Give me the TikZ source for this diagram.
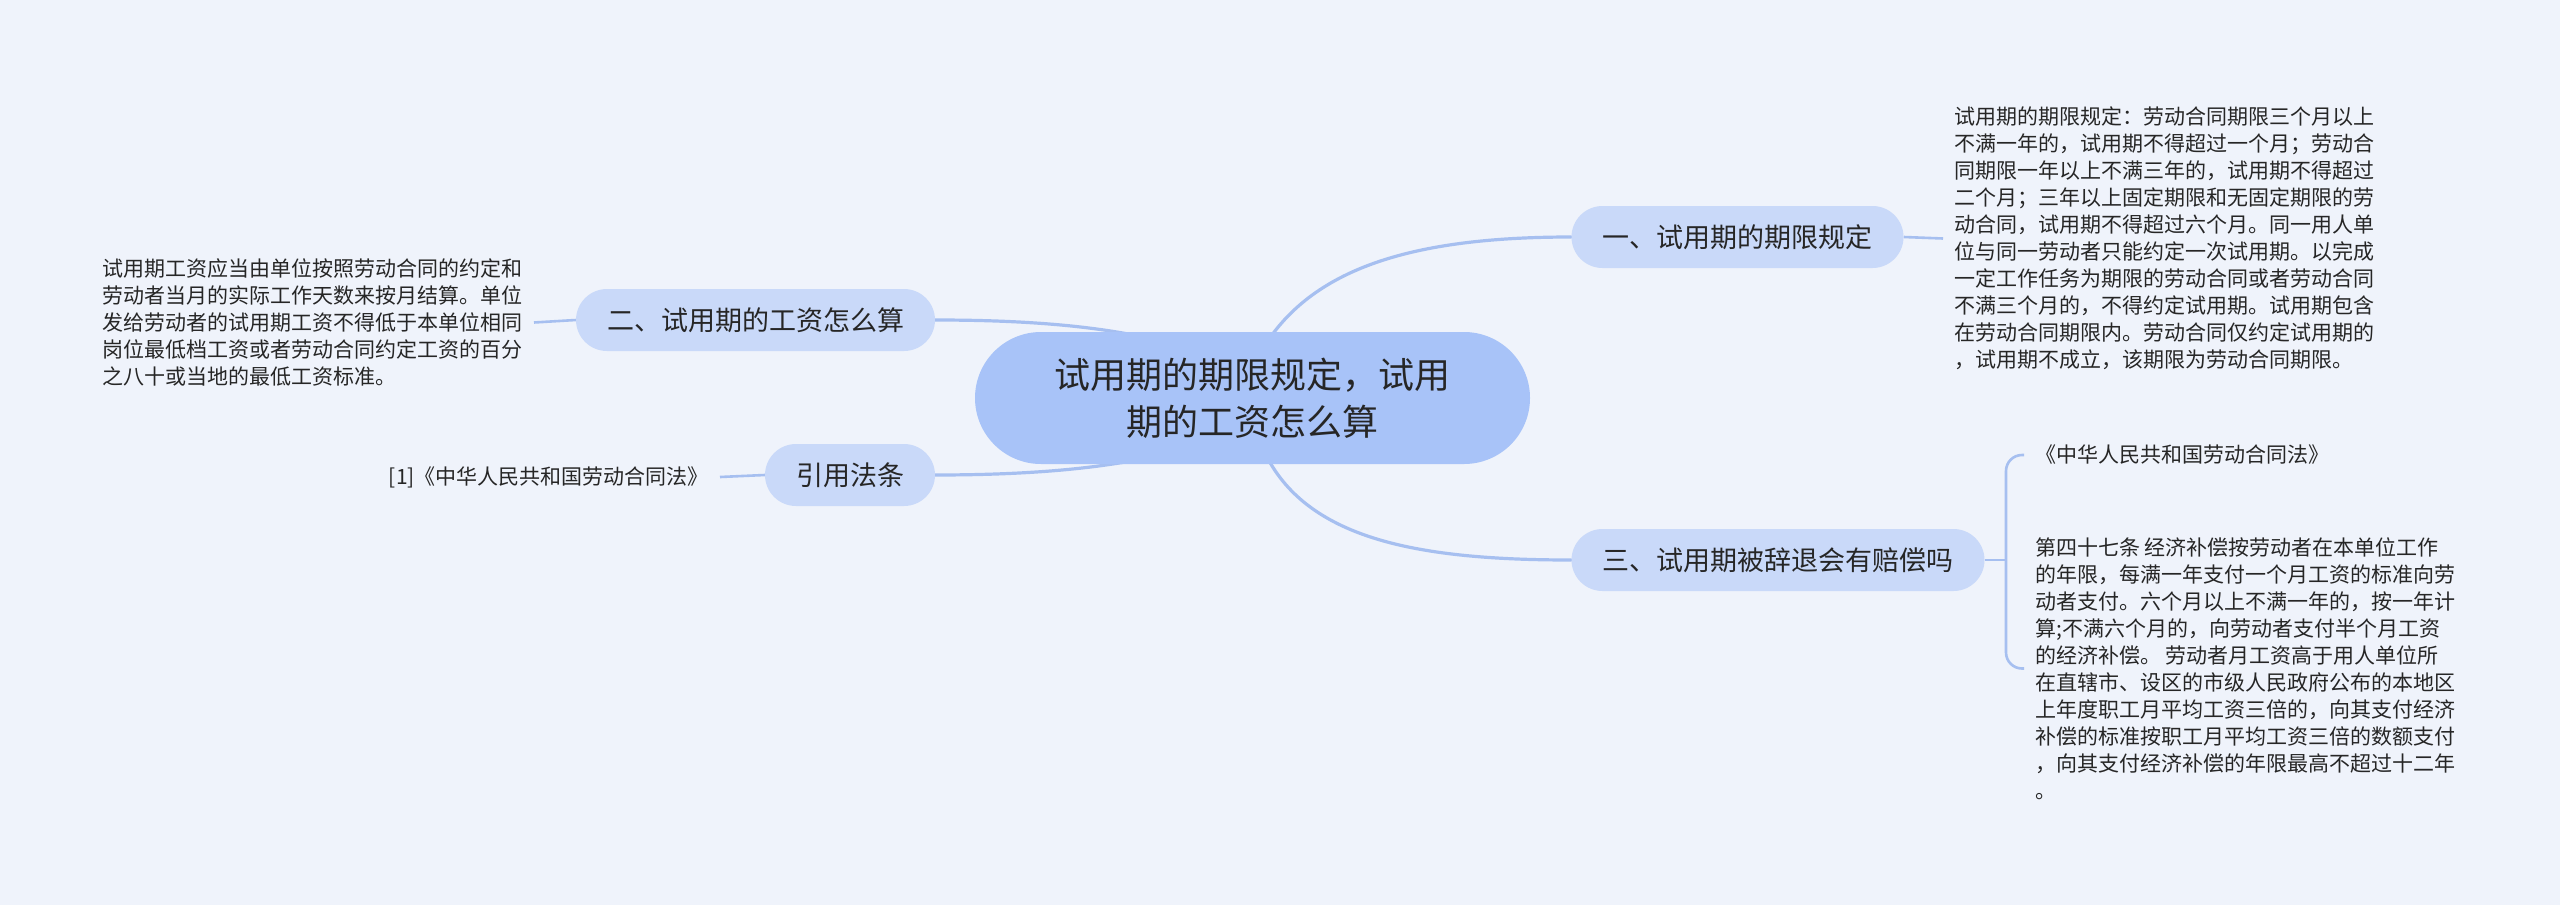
\documentclass[tikz,border=0pt]{standalone}
\usepackage{fontspec}
\setmainfont{Noto Sans CJK SC}
\usetikzlibrary{calc}
\definecolor{bgc}{RGB}{239,243,251}
\definecolor{cfill}{RGB}{168,195,248}
\definecolor{bfill}{RGB}{201,217,249}
\definecolor{edgec}{RGB}{166,191,240}
\definecolor{txt}{RGB}{38,38,38}
\pgfdeclarelayer{bglayer}
\pgfdeclarelayer{edgelayer}
\pgfsetlayers{bglayer,edgelayer,main}
\tikzset{
  rootbox/.style={rectangle, rounded corners=66pt, fill=cfill, minimum width=555pt, minimum height=132pt,
    align=center, text=txt, font=\fontsize{36}{47}\selectfont, inner sep=0pt},
  branchbox/.style={rectangle, rounded corners=31pt, fill=bfill, minimum height=62pt, inner xsep=31pt,
    inner ysep=0pt, text=txt, font=\fontsize{27}{32}\selectfont},
  leaftext/.style={align=left, text=txt, font=\fontsize{21}{27}\selectfont, inner xsep=11pt, inner ysep=0pt},
  conn/.style={draw=edgec, line width=3.2pt, line cap=round},
  thinconn/.style={draw=edgec, line width=2.6pt}
}
\begin{document}
\begin{tikzpicture}[x=1pt,y=-1pt]
\useasboundingbox (0,0) rectangle (2560,905);
\begin{pgfonlayer}{bglayer}
\fill[bgc] (0,0) rectangle (2560,905);
\end{pgfonlayer}

\node[rootbox] (c) at (1252.5,398) {试用期的期限规定，试用\\期的工资怎么算};
\node[branchbox] (yi) at (1737.5,237) {一、试用期的期限规定};
\node[branchbox] (san) at (1778,560) {三、试用期被辞退会有赔偿吗};
\node[branchbox] (er) at (755.5,320) {二、试用期的工资怎么算};
\node[branchbox] (yy) at (850,475) {引用法条};

\node[leaftext, anchor=west] (t1) at (1943,238.5) {试用期的期限规定：劳动合同期限三个月以上\\
不满一年的，试用期不得超过一个月；劳动合\\
同期限一年以上不满三年的，试用期不得超过\\
二个月；三年以上固定期限和无固定期限的劳\\
动合同，试用期不得超过六个月。同一用人单\\
位与同一劳动者只能约定一次试用期。以完成\\
一定工作任务为期限的劳动合同或者劳动合同\\
不满三个月的，不得约定试用期。试用期包含\\
在劳动合同期限内。劳动合同仅约定试用期的\\
，试用期不成立，该期限为劳动合同期限。};

\node[leaftext, anchor=east] (t2) at (534,322.5) {试用期工资应当由单位按照劳动合同的约定和\\
劳动者当月的实际工作天数来按月结算。单位\\
发给劳动者的试用期工资不得低于本单位相同\\
岗位最低档工资或者劳动合同约定工资的百分\\
之八十或当地的最低工资标准。};

\node[leaftext, anchor=east] (t3) at (720,477) {[1]《中华人民共和国劳动合同法》};

\node[leaftext, anchor=west] (t4) at (2024,455) {《中华人民共和国劳动合同法》};

\node[leaftext, anchor=west] (t5) at (2024,668.5) {第四十七条 经济补偿按劳动者在本单位工作\\
的年限，每满一年支付一个月工资的标准向劳\\
动者支付。六个月以上不满一年的，按一年计\\
算;不满六个月的，向劳动者支付半个月工资\\
的经济补偿。 劳动者月工资高于用人单位所\\
在直辖市、设区的市级人民政府公布的本地区\\
上年度职工月平均工资三倍的，向其支付经济\\
补偿的标准按职工月平均工资三倍的数额支付\\
，向其支付经济补偿的年限最高不超过十二年\\
。};

\coordinate (jn) at (2006,560);

\begin{pgfonlayer}{edgelayer}
\draw[conn] ([xshift=16pt,yshift=-8pt]c.north) .. controls (1320,265) and (1420,237) .. (yi.west);
\draw[conn] ([xshift=14pt,yshift=8pt]c.south) .. controls (1310,540) and (1420,560) .. (san.west);
\draw[conn] (er.east) .. controls (1040,320) and (1110,328) .. (1165,342);
\draw[conn] (yy.east) .. controls (1040,475) and (1110,467) .. (1165,454);
\draw[thinconn] (yi.east) -- (t1.west);
\draw[thinconn] (er.west) -- (t2.east);
\draw[thinconn] (yy.west) -- (t3.east);
\draw[thinconn] (san.east) -- (jn);
\draw[thinconn, rounded corners=16pt] (t4.west) -| (jn) |- (t5.west);
\end{pgfonlayer}
\end{tikzpicture}
\end{document}
